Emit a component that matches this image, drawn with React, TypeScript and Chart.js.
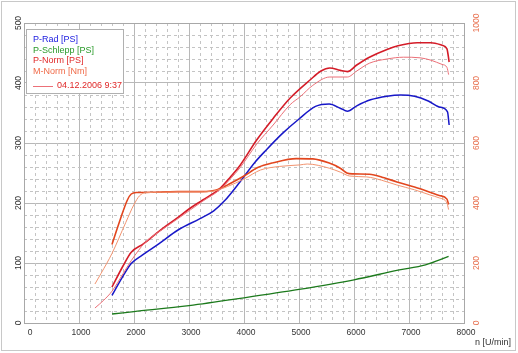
import React, { useEffect, useRef } from "react";
import { Chart, registerables } from "chart.js";

Chart.register(...registerables);

// ---------- data ----------
const X_TICKS = [0, 1000, 2000, 3000, 4000, 5000, 6000, 7000, 8000];
const Y_LEFT_TICKS = [0, 100, 200, 300, 400, 500];
const Y_RIGHT_TICKS = [0, 200, 400, 600, 800, 1000];
const X_TITLE = "n [U/min]";
const LEGEND_LABELS = ["P-Rad [PS]", "P-Schlepp [PS]", "P-Norm [PS]", "M-Norm [Nm]"];
const COMPARE_LABEL = "04.12.2006 9:37";

const pRadRpm = [1600, 1800, 1950, 2150, 2450, 2800, 3200, 3450, 3650, 3900, 4200, 4400, 4700, 5000, 5300, 5550, 5750, 5880, 6050, 6300, 6600, 6850, 7100, 7350, 7550, 7700, 7730];
const pRadPs = [46, 78, 99, 113, 132, 155, 174, 187, 204, 232, 268, 288, 316, 340, 361, 365, 358, 353, 362, 372, 378, 380, 378, 370, 360, 352, 330];

const pSchleppRpm = [1600, 2000, 3000, 4000, 5000, 6000, 6800, 7300, 7720];
const pSchleppPs = [15, 19, 29, 42, 56, 72, 88, 97, 111];

const pNormRpm = [1600, 1800, 1950, 2170, 2470, 2800, 3000, 3250, 3560, 3750, 3930, 4230, 4530, 4840, 5200, 5400, 5560, 5750, 5880, 6050, 6280, 6600, 6800, 7150, 7400, 7600, 7690, 7730];
const pNormPs = [60, 95, 118, 132, 154, 176, 190, 205, 224, 243, 263, 305, 341, 375, 405, 420, 425, 421, 419, 430, 443, 456, 462, 467, 467, 463, 457, 435];

const pNormRefRpm = [1290, 1450, 1600, 1800, 1950, 2200, 2500, 2800, 3250, 3560, 3750, 3930, 4230, 4530, 4840, 5020, 5250, 5560, 5880, 6050, 6280, 6600, 6900, 7200, 7400, 7600, 7690, 7720];
const pNormRefPs = [25, 38, 53, 82, 104, 134, 155, 174, 203, 222, 240, 259, 298, 330, 364, 377, 396, 410, 410, 420, 433, 440, 443, 442, 438, 431, 426, 414];

const mNormRpm = [1600, 1750, 1880, 1950, 2050, 2400, 2800, 3200, 3400, 3550, 3750, 4000, 4250, 4530, 4950, 5250, 5550, 5750, 5870, 5980, 6280, 6550, 6780, 7100, 7380, 7550, 7690, 7720];
const mNormNm = [262, 345, 410, 430, 435, 436, 438, 438, 440, 447, 465, 490, 518, 534, 548, 547, 533, 516, 500, 497, 496, 484, 470, 453, 436, 425, 413, 395];

const mNormRefRpm = [1290, 1400, 1600, 1850, 2000, 2100, 2200, 2500, 2800, 3200, 3450, 3700, 4000, 4300, 4650, 5020, 5150, 5550, 5750, 5920, 6230, 6500, 6780, 7100, 7380, 7550, 7690, 7720];
const mNormRefNm = [130, 165, 232, 335, 395, 424, 434, 436, 437, 437, 440, 455, 480, 510, 522, 527, 530, 516, 503, 490, 487, 476, 460, 444, 427, 417, 400, 378];

// ---------- styles ----------
const COL_BLUE = "#1818c8";
const COL_GREEN = "#1c7a1c";
const COL_RED = "#d41c28";
const COL_RED_THIN = "#ec7078";
const COL_ORANGE = "#e2461e";
const COL_ORANGE_THIN = "#f29470";
const LEGEND_COLORS = ["#2020e0", "#2a9a2a", "#e02828", "#f06a48"];
const RIGHT_AXIS_COLOR = "#e8704e";
const FONT = '"Liberation Sans", Arial, sans-serif';

const pts = (xs: number[], ys: number[]) => xs.map((x, i) => ({ x, y: ys[i] }));

const overlayPlugin = {
  id: "overlay",
  beforeDraw(chart: any) {
    const ctx = chart.ctx;
    ctx.save();
    ctx.fillStyle = "#ffffff";
    ctx.fillRect(0, 0, chart.width, chart.height);
    ctx.strokeStyle = "#c8c8c8";
    ctx.lineWidth = 1;
    ctx.strokeRect(1.5, 1.5, 514, 349);
    ctx.restore();
  },
  beforeDatasetsDraw(chart: any) {
    const ctx = chart.ctx;
    const { left, right, top, bottom } = chart.chartArea;
    const xs = chart.scales.x;
    const ys = chart.scales.y;
    ctx.save();
    ctx.strokeStyle = "#c4c4c4";
    ctx.lineWidth = 1;
    ctx.setLineDash([3, 3]);
    for (let v = 200; v < 8000; v += 200) {
      if (v % 1000 === 0) continue;
      const px = Math.round(xs.getPixelForValue(v)) + 0.5;
      ctx.beginPath();
      ctx.moveTo(px, top);
      ctx.lineTo(px, bottom);
      ctx.stroke();
    }
    for (let v = 20; v < 500; v += 20) {
      if (v % 100 === 0) continue;
      const py = Math.round(ys.getPixelForValue(v)) + 0.5;
      ctx.beginPath();
      ctx.moveTo(left, py);
      ctx.lineTo(right, py);
      ctx.stroke();
    }
    ctx.restore();
  },
  afterDraw(chart: any) {
    const ctx = chart.ctx;
    const { left, right, top, bottom } = chart.chartArea;
    const xs = chart.scales.x;
    const ys = chart.scales.y;
    const ys2 = chart.scales.y2;
    ctx.save();
    // plot frame
    ctx.strokeStyle = "#a8a8a8";
    ctx.lineWidth = 1;
    ctx.strokeRect(Math.round(left) + 0.5, Math.round(top) + 0.5, Math.round(right - left), Math.round(bottom - top));

    // x tick labels
    ctx.font = "8.5px " + FONT;
    ctx.fillStyle = "#333333";
    ctx.textAlign = "center";
    ctx.textBaseline = "middle";
    X_TICKS.forEach((v, i) => {
      const off = i === 0 ? 6 : 2;
      ctx.fillText(String(v), xs.getPixelForValue(v) + off, bottom + 10);
    });
    // x title
    ctx.font = "9px " + FONT;
    ctx.textAlign = "left";
    ctx.fillText(X_TITLE, 475, 343);

    // left y labels (rotated)
    ctx.font = "8.5px " + FONT;
    Y_LEFT_TICKS.forEach((v) => {
      const py = ys.getPixelForValue(v);
      ctx.save();
      ctx.translate(19, py);
      ctx.rotate(-Math.PI / 2);
      ctx.textAlign = "center";
      ctx.textBaseline = "middle";
      ctx.fillStyle = "#333333";
      ctx.fillText(String(v), 0, 0);
      ctx.restore();
    });
    // right y labels (rotated)
    Y_RIGHT_TICKS.forEach((v) => {
      const py = ys2.getPixelForValue(v);
      ctx.save();
      ctx.translate(477, py);
      ctx.rotate(-Math.PI / 2);
      ctx.textAlign = "center";
      ctx.textBaseline = "middle";
      ctx.fillStyle = RIGHT_AXIS_COLOR;
      ctx.fillText(String(v), 0, 0);
      ctx.restore();
    });

    // legend box
    const bx = left + 2.5;
    const by = top + 6.5;
    ctx.fillStyle = "#ffffff";
    ctx.fillRect(bx, by, 97, 64);
    ctx.strokeStyle = "#b0b0b0";
    ctx.strokeRect(bx, by, 97, 64);
    ctx.font = "9px " + FONT;
    ctx.textAlign = "left";
    ctx.textBaseline = "middle";
    LEGEND_LABELS.forEach((lab, i) => {
      ctx.fillStyle = LEGEND_COLORS[i];
      ctx.fillText(lab, bx + 6.5, by + 10 + i * 10.7);
    });
    const ly = by + 56;
    ctx.strokeStyle = COL_RED_THIN;
    ctx.beginPath();
    ctx.moveTo(bx + 6.5, Math.round(ly) + 0.5);
    ctx.lineTo(bx + 26.5, Math.round(ly) + 0.5);
    ctx.stroke();
    ctx.fillStyle = "#e02828";
    ctx.fillText(COMPARE_LABEL, bx + 30.5, ly);
    ctx.restore();
  },
};

export default function App() {
  const ref = useRef<HTMLCanvasElement>(null);
  useEffect(() => {
    if (!ref.current) return;
    const common = { pointRadius: 0, fill: false, cubicInterpolationMode: "monotone" as const };
    const chart = new Chart(ref.current, {
      type: "line",
      data: {
        datasets: [
          { ...common, label: "04.12.2006 P-Norm", data: pts(pNormRefRpm, pNormRefPs), borderColor: COL_RED_THIN, borderWidth: 1, yAxisID: "y" },
          { ...common, label: "04.12.2006 M-Norm", data: pts(mNormRefRpm, mNormRefNm), borderColor: COL_ORANGE_THIN, borderWidth: 1, yAxisID: "y2" },
          { ...common, label: LEGEND_LABELS[1], data: pts(pSchleppRpm, pSchleppPs), borderColor: COL_GREEN, borderWidth: 1.3, yAxisID: "y" },
          { ...common, label: LEGEND_LABELS[3], data: pts(mNormRpm, mNormNm), borderColor: COL_ORANGE, borderWidth: 1.6, yAxisID: "y2" },
          { ...common, label: LEGEND_LABELS[0], data: pts(pRadRpm, pRadPs), borderColor: COL_BLUE, borderWidth: 1.5, yAxisID: "y" },
          { ...common, label: LEGEND_LABELS[2], data: pts(pNormRpm, pNormPs), borderColor: COL_RED, borderWidth: 1.6, yAxisID: "y" },
        ],
      },
      options: {
        animation: false,
        responsive: false,
        devicePixelRatio: 1,
        layout: { padding: { left: 24, right: 54, top: 23, bottom: 30 } },
        plugins: { legend: { display: false }, tooltip: { enabled: false } },
        scales: {
          x: {
            type: "linear",
            min: 0,
            max: 8000,
            ticks: { display: false, stepSize: 1000 },
            grid: { color: "#b8b8b8", drawTicks: false, lineWidth: 1 },
            border: { display: false },
          },
          y: {
            type: "linear",
            position: "left",
            min: 0,
            max: 500,
            ticks: { display: false, stepSize: 100 },
            grid: { color: "#b8b8b8", drawTicks: false, lineWidth: 1 },
            border: { display: false },
          },
          y2: {
            type: "linear",
            position: "right",
            min: 0,
            max: 1000,
            ticks: { display: false, stepSize: 200 },
            grid: { drawOnChartArea: false, drawTicks: false },
            border: { display: false },
          },
        },
      },
      plugins: [overlayPlugin],
    });
    return () => chart.destroy();
  }, []);
  return (
    <div style={{ position: "fixed", left: 0, top: 0, width: 518, height: 353, background: "#fff" }}>
      <canvas ref={ref} width={518} height={353} />
    </div>
  );
}
